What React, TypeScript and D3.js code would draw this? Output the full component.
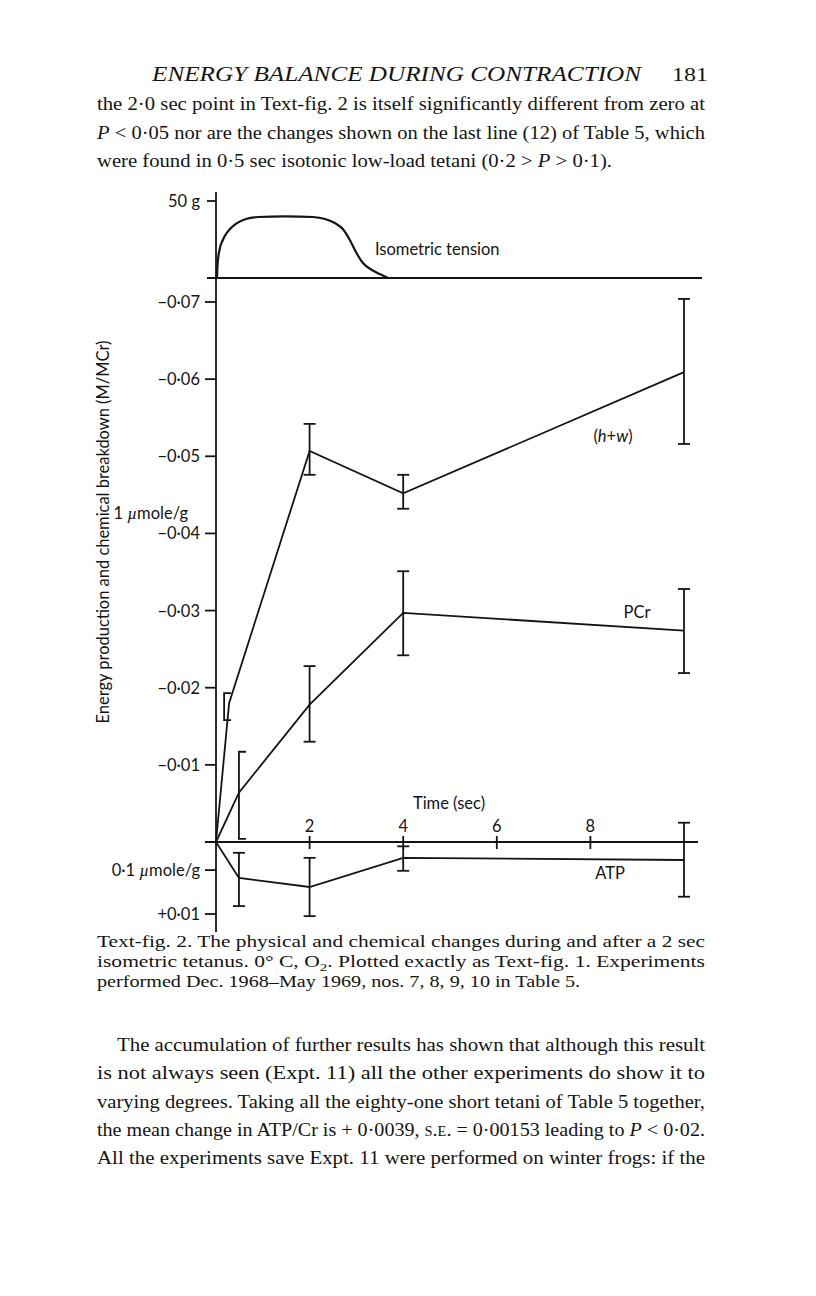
import React from 'react';
import * as d3 from 'd3';

// ---------------- data ----------------
const timeTickValues = [2, 4, 6, 8];
const timeTickLabels = ['2', '4', '6', '8'];

const energyTickValues = [-0.07, -0.06, -0.05, -0.04, -0.03, -0.02, -0.01, 0.01];
const energyTickLabels = ['−0·07', '−0·06', '−0·05', '−0·04', '−0·03', '−0·02', '−0·01', '+0·01'];

const tensionTickValues = [50];
const tensionTickLabels = ['50 g'];

// isometric tension trace (sec, g)
const tensionTimes = [0.02, 0.035, 0.07, 0.15, 0.26, 0.43, 0.64, 0.9, 1.47, 2.07, 2.33, 2.54, 2.71, 2.86, 2.99, 3.14, 3.33, 3.5, 3.68];
const tensionGrams = [0, 9.5, 17.5, 25, 30.5, 35.3, 38.3, 39.6, 40, 39.6, 38.3, 35.7, 31.8, 24.7, 16.9, 9.7, 5.2, 2.6, 0];

// (h+w)
const hwTimes = [0, 0.28, 2, 4, 10];
const hwValues = [0, -0.018, -0.0507, -0.0452, -0.0609];
const hwErrTop = [NaN, -0.0193, -0.0542, -0.0476, -0.0704];
const hwErrBottom = [NaN, -0.0158, -0.0476, -0.0432, -0.0516];
const hwErrKind = ['', 'bracket', 'bar', 'bar', 'bar'];

// PCr
const pcrTimes = [0, 0.49, 2, 4, 10];
const pcrValues = [0, -0.0064, -0.0178, -0.0297, -0.0274];
const pcrErrTop = [NaN, -0.0117, -0.0228, -0.0351, -0.0328];
const pcrErrBottom = [NaN, -0.0004, -0.013, -0.0242, -0.0219];
const pcrErrKind = ['', 'bracket', 'bar', 'bar', 'bar'];

// ATP
const atpTimes = [0, 0.49, 2, 4, 10];
const atpValues = [0, 0.005, 0.00625, 0.0022, 0.0025];
const atpErrTop = [NaN, 0.0015, 0.0022, 0.0006, -0.0025];
const atpErrBottom = [NaN, 0.0089, 0.0103, 0.004, 0.0076];
const atpErrKind = ['', 'bar', 'bar', 'bar', 'bar'];

const seriesLabels = ['(h+w)', 'PCr', 'ATP'];

// unit markers on the energy axis
const unitMarkValues = [-0.0426, 0.0039];
const unitMarkLabels = ['1 µmole/g', '0·1 µmole/g'];
const unitMarkHasTick = [false, true];

// ---------------- text ----------------
type Seg = { t: string; i?: boolean; sub?: boolean; sc?: boolean };
const headerTitle = 'ENERGY BALANCE DURING CONTRACTION';
const pageNumber = '181';
const topLines: Seg[][] = [
  [{ t: 'the 2·0 sec point in Text-fig. 2 is itself significantly different from zero at' }],
  [{ t: 'P', i: true }, { t: ' < 0·05 nor are the changes shown on the last line (12) of Table 5, which' }],
  [{ t: 'were found in 0·5 sec isotonic low-load tetani (0·2 > ' }, { t: 'P', i: true }, { t: ' > 0·1).' }],
];
const captionLines: Seg[][] = [
  [{ t: 'Text-fig. 2. The physical and chemical changes during and after a 2 sec' }],
  [{ t: 'isometric tetanus. 0° C, O' }, { t: '2', sub: true }, { t: '. Plotted exactly as Text-fig. 1. Experiments' }],
  [{ t: 'performed Dec. 1968–May 1969, nos. 7, 8, 9, 10 in Table 5.' }],
];
const bottomLines: Seg[][] = [
  [{ t: 'The accumulation of further results has shown that although this result' }],
  [{ t: 'is not always seen (Expt. 11) all the other experiments do show it to' }],
  [{ t: 'varying degrees. Taking all the eighty-one short tetani of Table 5 together,' }],
  [{ t: 'the mean change in ATP/Cr is + 0·0039, ' }, { t: 's.e.', sc: true }, { t: ' = 0·00153 leading to ' }, { t: 'P', i: true }, { t: ' < 0·02.' }],
  [{ t: 'All the experiments save Expt. 11 were performed on winter frogs: if the' }],
];

const INK = '#141414';
const SERIF = "'Liberation Serif', 'DejaVu Serif', serif";
const SANS = "Lato, 'Open Sans', 'DejaVu Sans', sans-serif";

function TextLine({ segs, x, y, size, len }: { segs: Seg[]; x: number; y: number; size: number; len?: number }) {
  return (
    <text x={x} y={y} fontFamily={SERIF} fontSize={size} fill={INK}
      textLength={len} lengthAdjust={len ? 'spacingAndGlyphs' : undefined}>
      {segs.map((s, k) => {
        if (s.sub) return <tspan key={k} fontSize={size * 0.7} dy={size * 0.25}>{s.t}</tspan>;
        const prevSub = k > 0 && segs[k - 1].sub;
        return (
          <tspan key={k} fontStyle={s.i ? 'italic' : undefined}
            fontVariant={s.sc ? 'small-caps' : undefined}
            dy={prevSub ? -size * 0.25 : undefined}>{s.t}</tspan>
        );
      })}
    </text>
  );
}

export default function App() {
  const x = d3.scaleLinear().domain([0, 10]).range([216, 684]);
  const y = d3.scaleLinear().domain([-0.07, 0, 0.01]).range([302, 842, 914]);
  const yT = d3.scaleLinear().domain([0, 50]).range([278, 201]);

  const series = [
    { label: seriesLabels[0], times: hwTimes, values: hwValues, top: hwErrTop, bottom: hwErrBottom, kind: hwErrKind, bracketOffset: -5 },
    { label: seriesLabels[1], times: pcrTimes, values: pcrValues, top: pcrErrTop, bottom: pcrErrBottom, kind: pcrErrKind, bracketOffset: 0 },
    { label: seriesLabels[2], times: atpTimes, values: atpValues, top: atpErrTop, bottom: atpErrBottom, kind: atpErrKind, bracketOffset: 0 },
  ];

  const tensionLine = d3.line<number>()
    .x((_, i) => x(tensionTimes[i]))
    .y((g) => yT(g))
    .curve(d3.curveMonotoneX)(tensionGrams) || '';

  const axisX = x(0);
  const zeroY = y(0);
  const sw = 1.8;

  return (
    <svg width={816} height={1296} style={{ position: 'absolute', left: 0, top: 0, background: '#fff' }}>
      <rect width={816} height={1296} fill="#fff" />

      {/* header */}
      <text x={152} y={81} fontFamily={SERIF} fontStyle="italic" fontSize={20} fill={INK}
        textLength={489} lengthAdjust="spacingAndGlyphs">{headerTitle}</text>
      <text x={672} y={81} fontFamily={SERIF} fontSize={19} fill={INK}
        textLength={36} lengthAdjust="spacingAndGlyphs">{pageNumber}</text>

      {topLines.map((l, i) => (
        <TextLine key={i} segs={l} x={97} y={110 + i * 28.5} size={19.5} len={i < 2 ? 608 : 515} />
      ))}

      {/* ---- chart ---- */}
      <g stroke={INK} fill="none" strokeWidth={sw} strokeLinecap="butt">
        {/* main vertical axis */}
        <line x1={axisX} x2={axisX} y1={192} y2={932} />
        {/* tension baseline */}
        <line x1={207} x2={702} y1={yT(0)} y2={yT(0)} />
        {tensionTickValues.map((v, i) => (
          <line key={'tt' + i} x1={207} x2={axisX} y1={yT(v)} y2={yT(v)} />
        ))}
        <path d={tensionLine} strokeWidth={2.2} />

        {/* energy ticks */}
        {energyTickValues.map((v, i) => (
          <line key={'et' + i} x1={205} x2={axisX} y1={y(v)} y2={y(v)} />
        ))}
        {unitMarkValues.map((v, i) => unitMarkHasTick[i] ? (
          <line key={'ut' + i} x1={205} x2={axisX} y1={y(v)} y2={y(v)} />
        ) : null)}

        {/* time axis */}
        <line x1={205} x2={698} y1={zeroY} y2={zeroY} />
        {timeTickValues.map((v, i) => (
          <line key={'xt' + i} x1={x(v)} x2={x(v)} y1={zeroY - 6} y2={zeroY + 7} />
        ))}

        {/* data lines */}
        {series.map((s, si) => {
          const d = d3.line<number>().x((_, i) => x(s.times[i])).y((v) => y(v))(s.values) || '';
          return <path key={'l' + si} d={d} />;
        })}

        {/* error bars */}
        {series.map((s, si) => s.times.map((t, i) => {
          if (!s.kind[i]) return null;
          const cx = x(t);
          const y1 = y(s.top[i]);
          const y2 = y(s.bottom[i]);
          if (s.kind[i] === 'bracket') {
            const bx = cx + s.bracketOffset;
            return <path key={'e' + si + '-' + i} d={`M${bx + 7},${y1}H${bx}V${y2}H${bx + 7}`} />;
          }
          return (
            <g key={'e' + si + '-' + i}>
              <line x1={cx} x2={cx} y1={y1} y2={y2} />
              <line x1={cx - 6} x2={cx + 6} y1={y1} y2={y1} />
              <line x1={cx - 6} x2={cx + 6} y1={y2} y2={y2} />
            </g>
          );
        }))}
      </g>

      {/* chart text */}
      <g fontFamily={SANS} fill={INK} fontSize={16.5}>
        {tensionTickValues.map((v, i) => (
          <text key={'ttl' + i} x={200} y={yT(v)} textAnchor="end" dominantBaseline="central">{tensionTickLabels[i]}</text>
        ))}
        <text x={375} y={249} dominantBaseline="central">Isometric tension</text>

        {energyTickValues.map((v, i) => (
          <text key={'etl' + i} x={200} y={y(v)} textAnchor="end" dominantBaseline="central">{energyTickLabels[i]}</text>
        ))}
        {unitMarkValues.map((v, i) => {
          const [num, rest] = unitMarkLabels[i].split(' ');
          return (
            <text key={'ul' + i} x={unitMarkHasTick[i] ? 200 : 188} y={y(v)} textAnchor="end" dominantBaseline="central">
              {num + ' '}<tspan fontStyle="italic" fontFamily={SERIF} fontSize={17}>µ</tspan>{rest.slice(1)}
            </text>
          );
        })}

        {timeTickValues.map((v, i) => (
          <text key={'xtl' + i} x={x(v)} y={826} textAnchor="middle" dominantBaseline="central">{timeTickLabels[i]}</text>
        ))}
        <text x={449} y={803} textAnchor="middle" dominantBaseline="central">Time (sec)</text>

        <text x={613} y={436} textAnchor="middle" dominantBaseline="central">
          (<tspan fontStyle="italic">h</tspan>+<tspan fontStyle="italic">w</tspan>)
        </text>
        <text x={637} y={612} textAnchor="middle" dominantBaseline="central">{seriesLabels[1]}</text>
        <text x={610} y={873} textAnchor="middle" dominantBaseline="central">{seriesLabels[2]}</text>

        <text transform="translate(103,532) rotate(-90)" textAnchor="middle" dominantBaseline="central"
          textLength={383} lengthAdjust="spacingAndGlyphs">
          Energy production and chemical breakdown (M/MCr)
        </text>
      </g>

      {/* caption */}
      {captionLines.map((l, i) => (
        <TextLine key={'c' + i} segs={l} x={97} y={947 + i * 20} size={16} len={i < 2 ? 608 : 483} />
      ))}

      {/* following paragraph */}
      {bottomLines.map((l, i) => (
        <TextLine key={'b' + i} segs={l} x={i === 0 ? 117 : 97} y={1051 + i * 28.3} size={19.5} len={i === 0 ? 588 : 608} />
      ))}
    </svg>
  );
}
